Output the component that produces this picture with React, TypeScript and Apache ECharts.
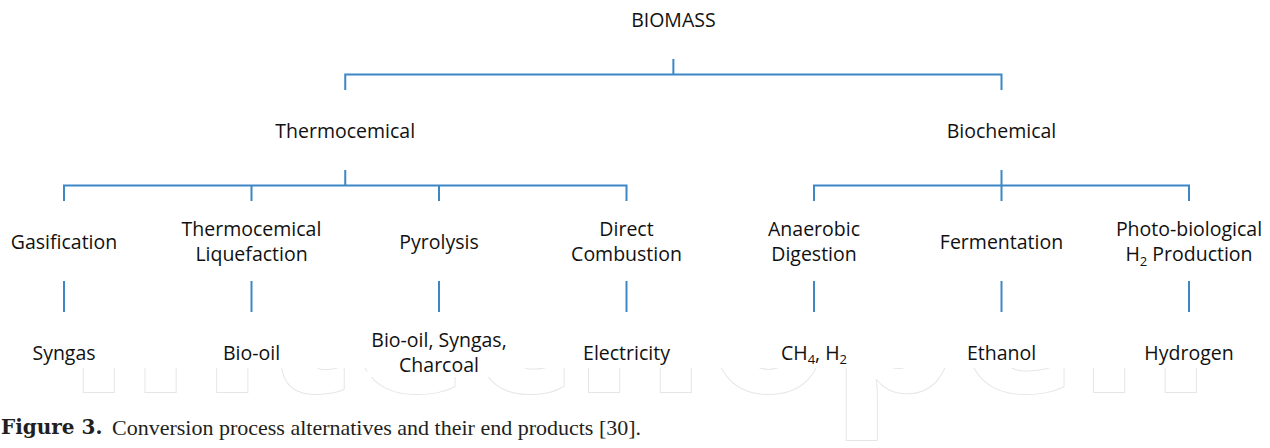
import React, { useEffect, useRef } from "react";
import * as echarts from "echarts";

const ROOT_LABEL = "BIOMASS";
const ROUTES = ["Thermocemical", "Biochemical"];
const PROCESSES = [
  "Gasification",
  "Thermocemical\nLiquefaction",
  "Pyrolysis",
  "Direct\nCombustion",
  "Anaerobic\nDigestion",
  "Fermentation",
  "Photo-biological\nH₂ Production",
];
const PROCESS_ROUTE = [0, 0, 0, 0, 1, 1, 1];
const PRODUCTS = [
  "Syngas",
  "Bio-oil",
  "Bio-oil, Syngas,\nCharcoal",
  "Electricity",
  "CH₄, H₂",
  "Ethanol",
  "Hydrogen",
];
const CAPTION_LEAD = "Figure 3.";
const CAPTION_TEXT = "Conversion process alternatives and their end products [30].";
const WATERMARK = "intechopen";

const LINE_COLOR = "#3D87C6";
const TEXT_COLOR = "#111111";
const LINE_H = 25;
const GAP = 40;

const SUB: Record<string, string> = { "₂": "2", "₄": "4" };

function toRich(name: string): string {
  return name
    .split("\n")
    .map((line) => {
      let out = "";
      let buf = "";
      for (const ch of line) {
        if (SUB[ch]) {
          if (buf) out += `{n|${buf}}`;
          buf = "";
          out += `{s|${SUB[ch]}}`;
        } else buf += ch;
      }
      if (buf) out += `{n|${buf}}`;
      return out;
    })
    .join("\n");
}

function nodeLabel(name: string, isLeaf: boolean) {
  const lines = name.split("\n").length;
  const pad = GAP - (lines * LINE_H) / 2;
  if (isLeaf) {
    return { padding: [pad, 4, 0, 4], offset: [0, -pad / 2] };
  }
  return { padding: [pad, 4, pad, 4] };
}

function buildTree(withLabels: boolean) {
  const mk = (name: string, children?: any[]) => {
    const node: any = { name };
    if (children) node.children = children;
    if (withLabels) node.label = nodeLabel(name, !children);
    return node;
  };
  return mk(
    ROOT_LABEL,
    ROUTES.map((r, ri) =>
      mk(
        r,
        PROCESSES.map((p, pi) => ({ p, pi }))
          .filter(({ pi }) => PROCESS_ROUTE[pi] === ri)
          .map(({ p, pi }) => mk(p, [mk(PRODUCTS[pi])]))
      )
    )
  );
}

const richStyles = {
  n: {
    fontFamily: "Open Sans",
    fontSize: 19.5,
    color: TEXT_COLOR,
    lineHeight: LINE_H,
  },
  s: {
    fontFamily: "Open Sans",
    fontSize: 13,
    color: TEXT_COLOR,
    lineHeight: 13,
    padding: [14, 0, 0, 0],
  },
};

export default function App() {
  const ref = useRef<HTMLDivElement>(null);
  useEffect(() => {
    if (!ref.current) return;
    const chart = echarts.init(ref.current, null, { renderer: "svg" });
    const common = {
      type: "tree",
      orient: "TB",
      layout: "orthogonal",
      left: -29.75,
      width: 1312.5,
      top: 19,
      height: 333,
      symbol: "circle",
      symbolSize: 1,
      edgeShape: "polyline",
      edgeForkPosition: "50%",
      expandAndCollapse: false,
      initialTreeDepth: -1,
      roam: false,
      silent: true,
      itemStyle: { color: "rgba(0,0,0,0)", borderWidth: 0 },
      emphasis: { disabled: true },
    };
    const labelCfg = {
      show: true,
      position: "inside",
      align: "center",
      verticalAlign: "middle",
      backgroundColor: "#ffffff",
      formatter: (p: any) => toRich(p.name),
      rich: richStyles,
    };
    chart.setOption({
      animation: false,
      backgroundColor: "#ffffff",
      graphic: [
        {
          type: "text",
          z: 0,
          x: 68,
          y: 313,
          style: {
            text: WATERMARK,
            font: "bold 202px 'Open Sans'",
            fill: "#ffffff",
            stroke: "#e6e6e6",
            lineWidth: 2,
            verticalAlign: "middle",
          },
        },
        {
          type: "rect",
          z: 1,
          shape: { x: 0, y: 0, width: 1270, height: 368 },
          style: { fill: "#ffffff" },
        },
        {
          type: "text",
          z: 5,
          x: 1,
          y: 427,
          style: {
            text: `{b|${CAPTION_LEAD}}{r|${CAPTION_TEXT}}`,
            verticalAlign: "middle",
            rich: {
              b: {
                fontFamily: "DejaVu Serif",
                fontWeight: "bold",
                fontSize: 20,
                fill: "#231f20",
                width: 111,
              },
              r: {
                fontFamily: "Liberation Serif",
                fontSize: 22,
                fill: "#231f20",
              },
            },
          },
        },
      ],
      series: [
        {
          ...common,
          z: 2,
          data: [buildTree(false)],
          lineStyle: { color: LINE_COLOR, width: 2, curveness: 0 },
          label: { show: false },
          leaves: { label: { show: false } },
        },
        {
          ...common,
          z: 3,
          data: [buildTree(true)],
          lineStyle: { color: "rgba(0,0,0,0)", width: 0 },
          label: labelCfg,
          leaves: { label: labelCfg },
        },
      ],
    });
    return () => chart.dispose();
  }, []);
  return (
    <div
      ref={ref}
      style={{ position: "absolute", left: 0, top: 0, width: 1270, height: 448 }}
    />
  );
}
